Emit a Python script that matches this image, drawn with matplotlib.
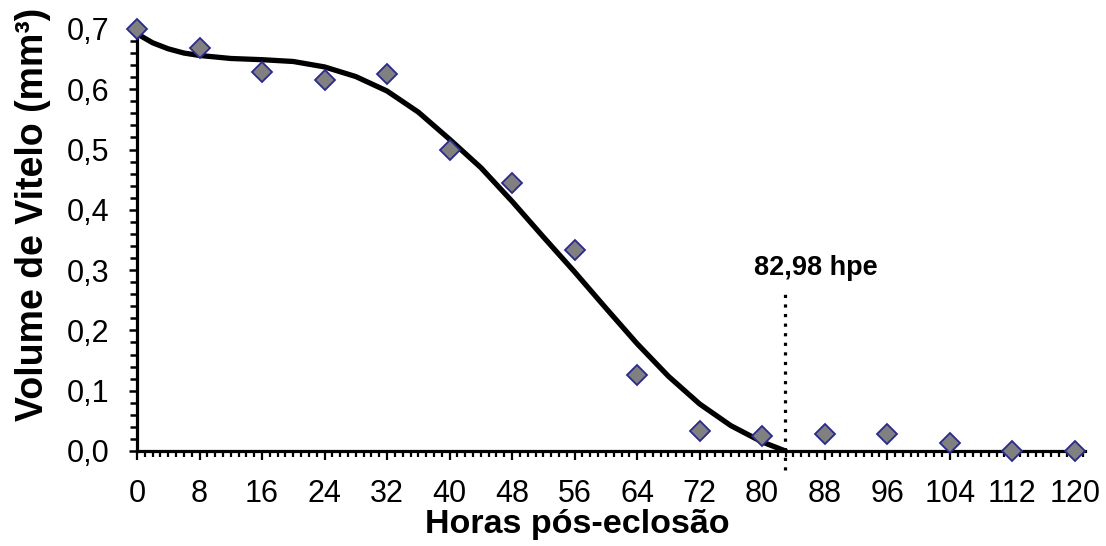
import numpy as np
import matplotlib.pyplot as plt
from matplotlib.ticker import MultipleLocator, FuncFormatter

plt.rcParams['font.family'] = ['Liberation Sans', 'DejaVu Sans']

# measured yolk volume (mm3) every 8 h after hatching
horas = [0, 8, 16, 24, 32, 40, 48, 56, 64, 72, 80, 88, 96, 104, 112, 120]
volume = [0.700, 0.668, 0.628, 0.615, 0.625, 0.499, 0.444, 0.333,
          0.126, 0.033, 0.025, 0.028, 0.028, 0.013, 0.000, 0.000]

# fitted absorption curve
curva_h = [0, 2, 4, 6, 8, 12, 16, 20, 24, 28, 32, 36, 40, 44, 48, 52, 56,
           60, 64, 68, 72, 76, 80, 82.98]
curva_v = [0.692, 0.677, 0.667, 0.660, 0.656, 0.651, 0.649, 0.646, 0.637,
           0.621, 0.597, 0.562, 0.517, 0.470, 0.414, 0.355, 0.297, 0.237,
           0.178, 0.124, 0.078, 0.042, 0.015, 0.0]

fim = 82.98

fig = plt.figure(figsize=(11.06, 5.46), dpi=100)
ax = fig.add_axes([0.1239, 0.174, 0.857, 0.773])

ax.plot(curva_h, curva_v, color='black', lw=3.8, solid_capstyle='round',
        solid_joinstyle='round', zorder=2)
ax.plot(horas, volume, linestyle='none', marker='D', markersize=10.5,
        markerfacecolor='#808080', markeredgecolor='#2a2a8c',
        markeredgewidth=1.3, clip_on=False, zorder=3)

# end of absorption
ax.plot([fim, fim], [-0.032, 0.267], color='black', lw=2.3,
        linestyle=(0, (1, 2)), clip_on=False, zorder=1)
ax.text(86.9, 0.303, '82,98 hpe', ha='center', va='center',
        fontsize=19.5, fontweight='bold')

ax.set_xlim(0, 121.3)
ax.set_ylim(0, 0.7)

ax.spines['top'].set_visible(False)
ax.spines['right'].set_visible(False)
ax.spines['left'].set_linewidth(2.3)
ax.spines['bottom'].set_linewidth(2.3)

ax.xaxis.set_major_locator(MultipleLocator(8))
ax.xaxis.set_minor_locator(MultipleLocator(1))
ax.yaxis.set_major_locator(MultipleLocator(0.1))
ax.yaxis.set_minor_locator(MultipleLocator(0.02))
ax.yaxis.set_major_formatter(FuncFormatter(lambda v, p: f'{v:.1f}'.replace('.', ',')))

ax.tick_params(axis='x', which='major', length=6.5, width=1.6, pad=14, labelsize=22)
ax.tick_params(axis='x', which='minor', length=4.5, width=1.6)
ax.tick_params(axis='y', which='major', length=6, width=1.8, pad=14, labelsize=22)
ax.tick_params(axis='y', which='minor', length=5, width=1.8)

ax.set_xlabel('Horas pós-eclosão', fontsize=24.5, fontweight='bold', labelpad=-0.5)
ax.set_ylabel('Volume de Vitelo (mm³)', fontsize=27, fontweight='bold', labelpad=11)
ax.xaxis.label.set_x(0.465)
ax.yaxis.label.set_y(0.56)

fig.savefig('out.png', dpi=100)
